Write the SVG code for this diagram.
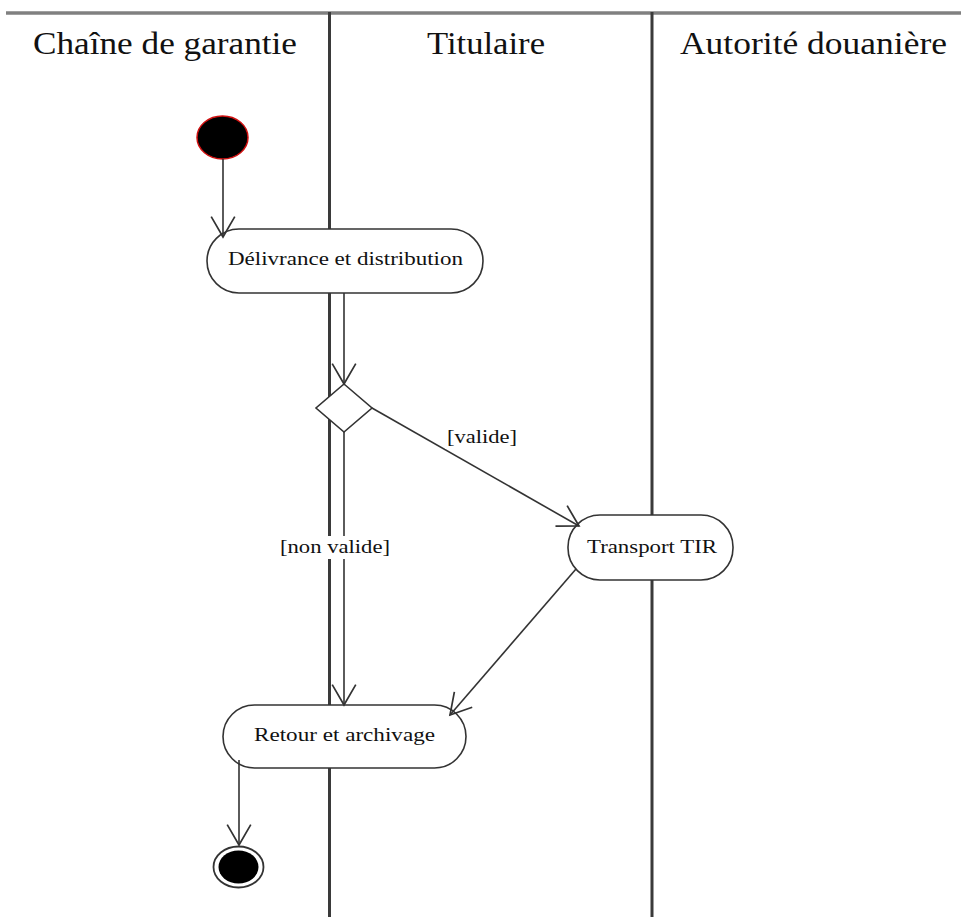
<svg xmlns="http://www.w3.org/2000/svg" width="961" height="917" viewBox="0 0 961 917">
  <style>
    .hdr { font-family: "Liberation Serif", "Times New Roman", serif; font-size: 32px; fill: #111; }
    .lbl { font-family: "Liberation Serif", "Times New Roman", serif; font-size: 19.5px; fill: #111; }
    .lane { stroke: #3a3a3a; stroke-width: 3; fill: none; }
    .act { fill: #fff; stroke: #333; stroke-width: 1.6; }
    .conn { stroke: #333; stroke-width: 1.6; fill: none; }
  </style>
  <defs>
    <marker id="arr" markerUnits="userSpaceOnUse" markerWidth="30" markerHeight="30" refX="0" refY="0" viewBox="-22 -14 24 28" orient="auto">
      <path d="M-19,-11 L0,0 L-19,11" fill="none" stroke="#333" stroke-width="1.6"/>
    </marker>
  </defs>
  <rect width="961" height="917" fill="#fff"/>

  <g id="swimlanes">
    <line x1="6" y1="13" x2="961" y2="13" stroke="#808080" stroke-width="3.5"/>
    <line class="lane" x1="329.5" y1="12" x2="329.5" y2="917"/>
    <line class="lane" x1="652" y1="12" x2="652" y2="917"/>
    <text class="hdr" x="33" y="54" textLength="264" lengthAdjust="spacingAndGlyphs">Chaîne de garantie</text>
    <text class="hdr" x="427" y="54" textLength="118" lengthAdjust="spacingAndGlyphs">Titulaire</text>
    <text class="hdr" x="680" y="54" textLength="267" lengthAdjust="spacingAndGlyphs">Autorité douanière</text>
  </g>

  <g id="initial">
    <ellipse cx="222.5" cy="137.5" rx="25.5" ry="21.5" fill="#000" stroke="#d01010" stroke-width="1.5"/>
  </g>

  <g id="delivrance">
    <rect class="act" x="207" y="229" width="276" height="64" rx="32" ry="32"/>
    <text class="lbl" x="228" y="265" textLength="235" lengthAdjust="spacingAndGlyphs">Délivrance et distribution</text>
  </g>

  <g id="decision">
    <polygon class="act" points="344,384 372,408 344,432 316,408"/>
  </g>

  <g id="transport">
    <rect class="act" x="568" y="515" width="165" height="65" rx="32" ry="32"/>
    <text class="lbl" x="587" y="553" textLength="130" lengthAdjust="spacingAndGlyphs">Transport TIR</text>
  </g>

  <g id="retour">
    <rect class="act" x="223" y="705" width="243" height="63" rx="31.5" ry="31.5"/>
    <text class="lbl" x="254" y="741" textLength="181" lengthAdjust="spacingAndGlyphs">Retour et archivage</text>
  </g>

  <g id="final">
    <ellipse cx="238.5" cy="867" rx="25" ry="20.5" fill="#fff" stroke="#333" stroke-width="1.8"/>
    <ellipse cx="238.5" cy="867" rx="20" ry="16.5" fill="#000"/>
  </g>

  <g id="connectors">
    <path class="conn" d="M223,159 L223,237" marker-end="url(#arr)"/>
    <path class="conn" d="M344,293 L344,384" marker-end="url(#arr)"/>
    <path class="conn" d="M372,408 L579,526" marker-end="url(#arr)"/>
    <path class="conn" d="M344,432 L344,705" marker-end="url(#arr)"/>
    <path class="conn" d="M576,569 L450,715" marker-end="url(#arr)"/>
    <path class="conn" d="M239,760 L239,845" marker-end="url(#arr)"/>
  </g>

  <g id="labels">
    <rect x="445" y="426" width="75" height="23" fill="#fff"/>
    <text class="lbl" x="447" y="443" textLength="70" lengthAdjust="spacingAndGlyphs">[valide]</text>
    <rect x="278" y="536" width="114" height="23" fill="#fff"/>
    <text class="lbl" x="280" y="553" textLength="110" lengthAdjust="spacingAndGlyphs">[non valide]</text>
  </g>
</svg>
